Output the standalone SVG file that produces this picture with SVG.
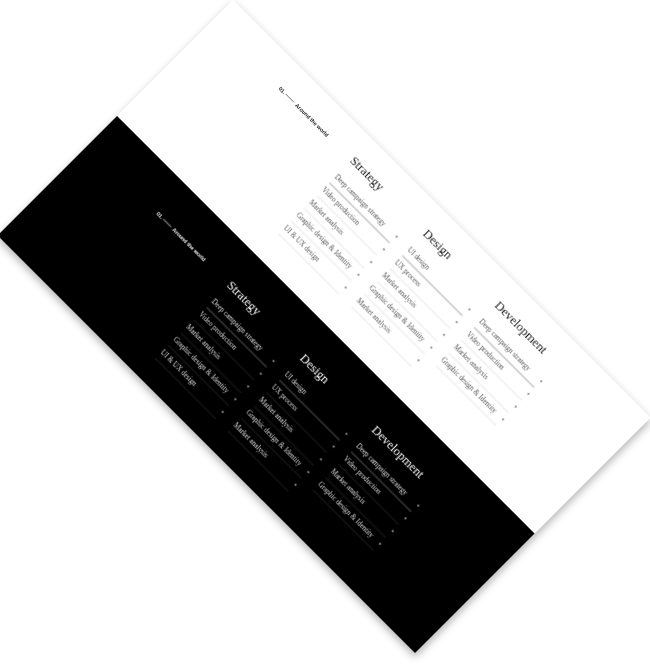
<svg xmlns="http://www.w3.org/2000/svg" width="650" height="672" viewBox="0 0 650 672">
<defs>
<style>
.lbl{font-family:"Liberation Sans",Arial,sans-serif;font-size:5.4px;font-weight:bold}
.hd{font-family:"Liberation Serif","Times New Roman",serif;font-size:12.7px}
.it{font-family:"Liberation Serif","Times New Roman",serif;font-size:7.2px}
.w .lbl,.w .hd{fill:#1a1a1a}
.w .it{fill:#5a5a5a}
.w .ln{stroke:#d6d6d6;stroke-width:0.6}
.w .ln1{stroke:#777;stroke-width:0.6}
.w .mk{stroke:#555;stroke-width:0.6}
.w .dash{stroke:#1a1a1a;stroke-width:0.6}
.b .lbl,.b .hd{fill:#f2f2f2}
.b .it{fill:#d4d4d4}
.b .ln{stroke:#363636;stroke-width:0.6}
.b .ln1{stroke:#8a8a8a;stroke-width:0.6}
.b .mk{stroke:#ccc;stroke-width:0.6}
.b .dash{stroke:#f2f2f2;stroke-width:0.6}
</style>
<filter id="sh" x="-20%" y="-20%" width="140%" height="140%">
<feDropShadow dx="0" dy="4" stdDeviation="4" flood-color="#000" flood-opacity="0.3"/>
</filter>
</defs>
<rect width="650" height="672" fill="#fff"/>
<g filter="url(#sh)">
<g transform="translate(233,0) rotate(45)">
<rect id="page-white" x="0" y="0" width="590.4" height="164" fill="#fff"/>
<rect id="page-black" x="0" y="164" width="590.4" height="169" fill="#000"/>

<g class="w">
<g id="w-label">
<text class="lbl" x="95" y="31">01.</text>
<line class="dash" x1="103.5" y1="29.2" x2="115.5" y2="29.2"/>
<text class="lbl" x="118.5" y="31">Around the world</text>
</g>
<g id="w-strategy" transform="translate(197,0)">
<text class="hd" x="-0.5" y="32">Strategy</text>
<text class="it" x="0" y="53.5">Deep campaign strategy</text>
<text class="it" x="0" y="71.5">Video production</text>
<text class="it" x="0" y="89.5">Market analysis</text>
<text class="it" x="0" y="107.5">Graphic design &amp; Identity</text>
<text class="it" x="0" y="125.5">UI &amp; UX design</text>
<line class="ln1" x1="0.5" y1="61" x2="85.5" y2="61"/>
<line class="ln" x1="0.5" y1="79" x2="85.5" y2="79"/>
<line class="ln" x1="0.5" y1="97" x2="85.5" y2="97"/>
<line class="ln" x1="0.5" y1="115" x2="85.5" y2="115"/>
<line class="ln" x1="0.5" y1="133" x2="85.5" y2="133"/>
<path class="mk" d="M84.8 51.6h2.4M86 50.4v2.4M84.8 69.6h2.4M86 68.4v2.4M84.8 87.6h2.4M86 86.4v2.4M84.8 105.6h2.4M86 104.4v2.4M84.8 123.6h2.4M86 122.4v2.4"/>
</g>
<g id="w-design" transform="translate(300,0)">
<text class="hd" x="-0.5" y="32">Design</text>
<text class="it" x="0" y="53.5">UI design</text>
<text class="it" x="0" y="71.5">UX process</text>
<text class="it" x="0" y="89.5">Market analysis</text>
<text class="it" x="0" y="107.5">Graphic design &amp; Identity</text>
<text class="it" x="0" y="125.5">Market analysis</text>
<line class="ln1" x1="0.5" y1="61" x2="85.5" y2="61"/>
<line class="ln" x1="0.5" y1="79" x2="85.5" y2="79"/>
<line class="ln" x1="0.5" y1="97" x2="85.5" y2="97"/>
<line class="ln" x1="0.5" y1="115" x2="85.5" y2="115"/>
<line class="ln" x1="0.5" y1="133" x2="85.5" y2="133"/>
<path class="mk" d="M84.8 51.6h2.4M86 50.4v2.4M84.8 69.6h2.4M86 68.4v2.4M84.8 87.6h2.4M86 86.4v2.4M84.8 105.6h2.4M86 104.4v2.4M84.8 123.6h2.4M86 122.4v2.4"/>
</g>
<g id="w-development" transform="translate(401.5,0)">
<text class="hd" x="-0.5" y="32">Development</text>
<text class="it" x="0" y="53.5">Deep campaign strategy</text>
<text class="it" x="0" y="71.5">Video production</text>
<text class="it" x="0" y="89.5">Market analysis</text>
<text class="it" x="0" y="107.5">Graphic design &amp; Identity</text>
<line class="ln1" x1="0.5" y1="61" x2="85.5" y2="61"/>
<line class="ln" x1="0.5" y1="79" x2="85.5" y2="79"/>
<line class="ln" x1="0.5" y1="97" x2="85.5" y2="97"/>
<line class="ln" x1="0.5" y1="115" x2="85.5" y2="115"/>
<path class="mk" d="M84.8 51.6h2.4M86 50.4v2.4M84.8 69.6h2.4M86 68.4v2.4M84.8 87.6h2.4M86 86.4v2.4M84.8 105.6h2.4M86 104.4v2.4"/>
</g>
</g>

<g class="b" transform="translate(1,175)">
<g id="b-label">
<text class="lbl" x="96" y="31">01.</text>
<line class="dash" x1="104.5" y1="29.2" x2="116" y2="29.2"/>
<text class="lbl" x="118.5" y="31">Around the world</text>
</g>
<g id="b-strategy" transform="translate(197,0)">
<text class="hd" x="-0.5" y="32">Strategy</text>
<text class="it" x="0" y="53.5">Deep campaign strategy</text>
<text class="it" x="0" y="71.5">Video production</text>
<text class="it" x="0" y="89.5">Market analysis</text>
<text class="it" x="0" y="107.5">Graphic design &amp; Identity</text>
<text class="it" x="0" y="125.5">UI &amp; UX design</text>
<line class="ln1" x1="0.5" y1="61" x2="85.5" y2="61"/>
<line class="ln" x1="0.5" y1="79" x2="85.5" y2="79"/>
<line class="ln" x1="0.5" y1="97" x2="85.5" y2="97"/>
<line class="ln" x1="0.5" y1="115" x2="85.5" y2="115"/>
<line class="ln" x1="0.5" y1="133" x2="85.5" y2="133"/>
<path class="mk" d="M84.8 51.6h2.4M86 50.4v2.4M84.8 69.6h2.4M86 68.4v2.4M84.8 87.6h2.4M86 86.4v2.4M84.8 105.6h2.4M86 104.4v2.4M84.8 123.6h2.4M86 122.4v2.4"/>
</g>
<g id="b-design" transform="translate(300,0)">
<text class="hd" x="-0.5" y="32">Design</text>
<text class="it" x="0" y="53.5">UI design</text>
<text class="it" x="0" y="71.5">UX process</text>
<text class="it" x="0" y="89.5">Market analysis</text>
<text class="it" x="0" y="107.5">Graphic design &amp; Identity</text>
<text class="it" x="0" y="125.5">Market analysis</text>
<line class="ln1" x1="0.5" y1="61" x2="85.5" y2="61"/>
<line class="ln" x1="0.5" y1="79" x2="85.5" y2="79"/>
<line class="ln" x1="0.5" y1="97" x2="85.5" y2="97"/>
<line class="ln" x1="0.5" y1="115" x2="85.5" y2="115"/>
<line class="ln" x1="0.5" y1="133" x2="85.5" y2="133"/>
<path class="mk" d="M84.8 51.6h2.4M86 50.4v2.4M84.8 69.6h2.4M86 68.4v2.4M84.8 87.6h2.4M86 86.4v2.4M84.8 105.6h2.4M86 104.4v2.4M84.8 123.6h2.4M86 122.4v2.4"/>
</g>
<g id="b-development" transform="translate(401.5,0)">
<text class="hd" x="-0.5" y="32">Development</text>
<text class="it" x="0" y="53.5">Deep campaign strategy</text>
<text class="it" x="0" y="71.5">Video production</text>
<text class="it" x="0" y="89.5">Market analysis</text>
<text class="it" x="0" y="107.5">Graphic design &amp; Identity</text>
<line class="ln1" x1="0.5" y1="61" x2="85.5" y2="61"/>
<line class="ln" x1="0.5" y1="79" x2="85.5" y2="79"/>
<line class="ln" x1="0.5" y1="97" x2="85.5" y2="97"/>
<line class="ln" x1="0.5" y1="115" x2="85.5" y2="115"/>
<path class="mk" d="M84.8 51.6h2.4M86 50.4v2.4M84.8 69.6h2.4M86 68.4v2.4M84.8 87.6h2.4M86 86.4v2.4M84.8 105.6h2.4M86 104.4v2.4"/>
</g>
</g>
</g>
</g>
</svg>
